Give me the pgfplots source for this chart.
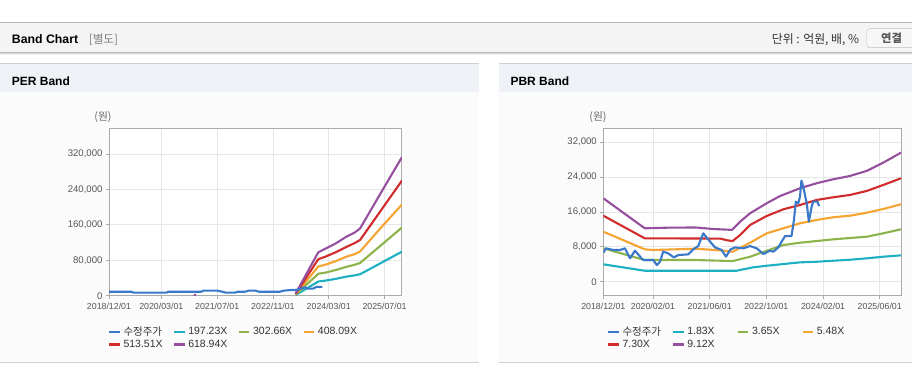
\documentclass[border=0pt]{standalone}
\usepackage{pgfplots}
\pgfplotsset{compat=1.18}
\usepackage{fontspec}
\setmainfont{Liberation Sans}
\newfontfamily\kr{Noto Sans CJK KR}

\definecolor{cprice}{HTML}{3A78C9}
\definecolor{ccyan}{HTML}{1EB0C2}
\definecolor{cgreen}{HTML}{8CB44B}
\definecolor{corange}{HTML}{F5A431}
\definecolor{cred}{HTML}{D12B2B}
\definecolor{cpurple}{HTML}{964F9E}
\definecolor{gridc}{HTML}{E6E6E6}
\definecolor{axisc}{HTML}{ABABAB}
\definecolor{tickc}{HTML}{555555}
\definecolor{barbg}{HTML}{F4F4F4}
\definecolor{headbg}{HTML}{EEF2F7}
\definecolor{panelbg}{HTML}{FBFBFB}
\definecolor{linec}{HTML}{B4B4B4}
\definecolor{panelline}{HTML}{D0D0D0}

\pgfplotsset{
 bandaxis/.style={
  scale only axis, anchor=south west,
  xmin=0, xmax=84,
  axis background/.style={fill=white},
  axis line style={axisc, line width=1pt},
  grid=major, major grid style={gridc, line width=0.8pt},
  tick align=outside, major tick length=3pt, tick style={axisc, line width=0.8pt},
  xtick pos=left, ytick pos=left,
  scaled y ticks=false,
  /pgf/number format/fixed, /pgf/number format/1000 sep={,},
  /pgf/number format/assume math mode=true,
  xticklabel style={font=\fontsize{8.8}{10}\selectfont, text=tickc, yshift=-1.2pt},
  yticklabel style={font=\fontsize{9.6}{11}\selectfont, text=tickc},
  legend columns=4, legend cell align=left,
  legend image code/.code={\draw[#1, line width=2.5pt] (0pt,0pt) -- (10.6pt,0pt);},
  legend style={draw=none, fill=none, inner sep=0pt, anchor=north west,
    font=\fontsize{10.5}{12}\selectfont, text=black!80,
    /tikz/column sep=0pt, /tikz/row sep=1pt,
    nodes={text width=46.7pt, inner xsep=2.5pt, inner ysep=1pt}},
  every axis plot/.append style={line width=2.1pt, line join=round},
 }
}

\begin{document}
\begin{tikzpicture}
\useasboundingbox (0pt,0pt) rectangle (912pt,364pt);
\begin{scope}[x=1pt,y=1pt]
\fill[white] (0,0) rectangle (912,364);
\fill[barbg] (0,311) rectangle (912,341.5);
\draw[linec, line width=1pt] (0,341.5) -- (912,341.5);
\draw[black!28, line width=1pt] (0,311) -- (912,311);
\draw[black!14, line width=1pt] (0,310) -- (912,310);
\draw[black!6, line width=1pt] (0,309) -- (912,309);
% panels
\fill[panelbg] (0,1.5) rectangle (479,300);
\fill[headbg] (0,271.7) rectangle (479,300);
\draw[panelline, line width=1pt] (0,300) -- (479,300);
\draw[panelline, line width=1pt] (0,1.5) -- (479,1.5);
\fill[panelbg] (499.3,1.5) rectangle (912,300);
\fill[headbg] (499.3,271.7) rectangle (912,300);
\draw[panelline, line width=1pt] (499.3,300) -- (912,300);
\draw[panelline, line width=1pt] (499.3,1.5) -- (912,1.5);
% texts
\node[anchor=base west, inner sep=0pt, font=\fontsize{12.3}{14}\selectfont\bfseries] at (11.7,320.7) {Band Chart};
\node[anchor=base west, inner sep=0pt, font=\fontsize{11.6}{13}\selectfont, text=black!50] at (88.7,320.7) {\kr [별도]};
\node[anchor=base east, inner sep=0pt, font=\fontsize{11.9}{13}\selectfont, text=black!80] at (859.3,320.7) {\kr 단위 : 억원, 배, \%};
\draw[black!25, fill=white!97!black, rounded corners=3pt] (866.7,316.3) rectangle (925,335.3);
\node[anchor=center, inner sep=0pt, font=\fontsize{11.3}{13}\selectfont, text=black!65] at (891.5,326) {\kr\bfseries 연결};
\node[anchor=base west, inner sep=0pt, font=\fontsize{12}{14}\selectfont\bfseries] at (11.7,278.7) {PER Band};
\node[anchor=base west, inner sep=0pt, font=\fontsize{12}{14}\selectfont\bfseries] at (510.3,278.7) {PBR Band};
\node[anchor=center, inner sep=0pt, font=\fontsize{10.8}{12}\selectfont, text=black!60] at (103,247) {\kr (원)};
\node[anchor=center, inner sep=0pt, font=\fontsize{10.8}{12}\selectfont, text=black!60] at (598,247) {\kr (원)};
\end{scope}

% ---------------- PER Band ----------------
\begin{axis}[bandaxis,
  at={(109pt,68.3pt)}, width=293pt, height=167.4pt,
  ymin=0, ymax=378000,
  xtick={0,15,31,47,63,79},
  xticklabels={2018/12/01,2020/03/01,2021/07/01,2022/11/01,2024/03/01,2025/07/01},
  ytick={0,80000,160000,240000,320000},
  legend style={at={(rel axis cs:-0.0044,-0.178)}},
]
\addlegendimage{cprice}\addlegendentry{\kr 수정주가}
\addplot[ccyan] coordinates {(53.5,1500) (60,32000) (62,34000) (65,38000) (68,43000) (70.5,46000) (72,48500) (78,74000) (84,99500)};
\addlegendentry{197.23X}
\addplot[cgreen] coordinates {(53.5,2300) (60,49500) (62,52000) (65,58000) (68,65000) (70.5,70000) (72,74000) (78,114000) (84,154000)};
\addlegendentry{302.66X}
\addplot[corange] coordinates {(53.5,3100) (60,66000) (62,70000) (65,78000) (68,88000) (70.5,94000) (72,100000) (78,154000) (84,206000)};
\addlegendentry{408.09X}
\addplot[cred] coordinates {(53.5,3900) (60,82500) (62,88000) (65,98000) (68,110000) (70.5,119000) (72,126000) (78,193000) (84,260000)};
\addlegendentry{513.51X}
\addplot[cpurple] coordinates {(53.5,4700) (60,98000) (62,106000) (65,118000) (68,133000) (70.5,143000) (72,152000) (78,233000) (84,313000)};
\addlegendentry{618.94X}
\addplot[cred, forget plot] coordinates {(24.4,1200) (24.9,300)};
\addplot[cpurple, forget plot] coordinates {(24.3,2200) (24.9,600)};
\addplot[cprice, forget plot] coordinates {(0,9000) (6.5,9000) (7,6800) (16.5,6800) (17,9000) (26.5,9000) (27,11300) (31,11300) (32.5,9000) (33.5,6800) (36,6800) (37,9000) (39,9000) (40,11300) (42,11300) (43,9000) (49,9000) (50,11300) (52,12800) (53.5,12800) (54.5,14500) (56,19000) (57,16000) (58.5,16000) (59.5,20000) (61.2,20000)};
\end{axis}

% ---------------- PBR Band ----------------
\begin{axis}[bandaxis,
  at={(603.3pt,68.3pt)}, width=297.7pt, height=167.4pt,
  ymin=-3200, ymax=35200,
  xtick={0,14,30,46,62,78},
  xticklabels={2018/12/01,2020/02/01,2021/06/01,2022/10/01,2024/02/01,2025/06/01},
  ytick={0,8000,16000,24000,32000},
  legend style={at={(rel axis cs:0.0114,-0.178)}},
]
\addlegendimage{cprice}\addlegendentry{\kr 수정주가}
\addplot[ccyan] coordinates {(0,4000) (11.7,2530) (37.6,2530) (42.3,3310) (46.1,3670) (50.8,4060) (55.5,4450) (60.2,4590) (64.9,4820) (69.6,5050) (74.3,5370) (79.0,5740) (84,6060)};
\addlegendentry{1.83X}
\addplot[cgreen] coordinates {(0,7670) (11.7,4980) (26,4980) (36.5,4750) (41.4,5740) (46.1,7100) (50.8,8430) (55.5,8950) (60.2,9340) (64.9,9730) (69.6,10030) (74.3,10330) (79.0,11110) (84,12030)};
\addlegendentry{3.65X}
\addplot[corange] coordinates {(0,11480) (11.7,7440) (14,7280) (26,7580) (33,7200) (36.5,6890) (41.4,8950) (46.1,11110) (50.8,12260) (55.5,13410) (60.2,14170) (64.9,14790) (69.6,15150) (74.3,15840) (79.0,16690) (84,17770)};
\addlegendentry{5.48X}
\addplot[cred] coordinates {(0,15150) (11.7,9960) (33,9900) (35,9500) (36.5,9340) (38.6,10720) (41.4,13020) (46.1,15080) (50.8,16620) (55.5,17610) (60.2,18760) (64.9,19380) (69.6,19910) (74.3,20820) (79.0,22200) (84,23740)};
\addlegendentry{7.30X}
\addplot[cpurple] coordinates {(0,19150) (11.7,12260) (18,12400) (26,12450) (31,12100) (36.3,11900) (38.6,13780) (41.4,15700) (46.1,18000) (49.9,19680) (55.5,21440) (60.2,22600) (64.9,23510) (69.6,24270) (74.3,25420) (79.0,27320) (84,29620)};
\addlegendentry{9.12X}
\addplot[cprice, forget plot] coordinates {(0,6670) (0.76,7660) (2.83,7280) (4.71,7280) (6.12,7660) (7.53,5370) (8.94,7120) (10.8,5370) (11.3,4980) (14.1,4980) (15.1,3830) (16.0,4600) (16.9,6900) (18.3,6510) (19.9,5590) (21.2,6130) (24.0,6280) (25.4,7430) (26.8,8200) (28.2,11100) (29.6,9730) (31.5,7890) (33.4,7280) (34.6,5750) (35.9,7430) (37.2,7890) (39.5,7660) (41.4,8200) (43.3,7660) (45.2,6360) (47.0,7120) (48.0,6890) (49.4,7890) (50.3,9180) (51.3,10480) (53.1,10480) (53.8,14170) (54.3,18370) (55.0,17990) (55.5,19520) (55.9,23190) (56.4,21810) (57.4,17990) (58.0,13780) (58.8,17220) (59.2,18370) (60.4,18370) (60.9,17370)};
\end{axis}
\end{tikzpicture}
\end{document}
